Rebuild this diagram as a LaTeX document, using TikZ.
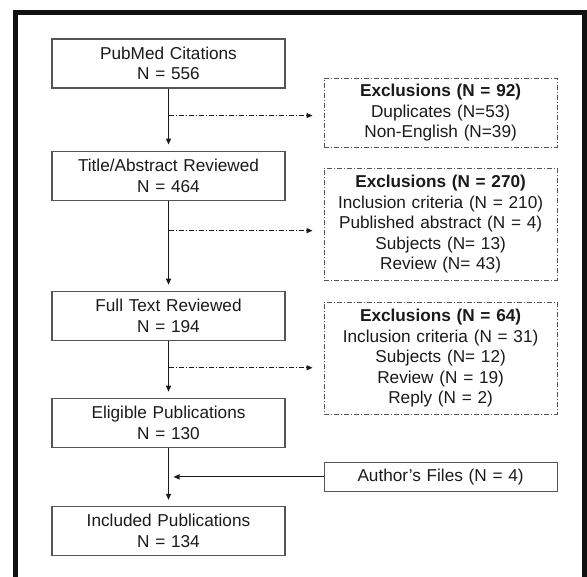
\documentclass[tikz,border=0pt]{standalone}
\usepackage{fontspec}
\setmainfont{Liberation Sans}
\usepackage{xcolor}
\usepackage{tikz}
\usetikzlibrary{arrows.meta,positioning}
\definecolor{publine}{HTML}{555555}
\definecolor{pubink}{HTML}{1A1A1A}
\definecolor{pubframe}{HTML}{111111}
\tikzset{
  pubstep/.style={
    rectangle,
    draw=publine,
    fill=white,
    line width=1.1pt,
    align=center,
    text width=225pt,
    inner xsep=4pt,
    inner ysep=4pt,
    minimum height=49pt,
    font=\fontsize{17.2}{20.6}\selectfont,
    text=pubink
  },
  pubexcl/.style={pubstep, dash pattern=on 5pt off 2pt on 1pt off 2pt},
  pubside/.style={pubstep, minimum height=29pt},
  pubarrow/.style={-{Triangle[length=6pt,width=5pt]}, line width=1.1pt, draw=pubink, shorten >=6pt},
  pubexclarrow/.style={pubarrow, dash pattern=on 5pt off 2pt on 1pt off 2pt, shorten >=11pt}
}

\begin{document}
\begin{tikzpicture}[x=1pt, y=-1pt]
\useasboundingbox (0,0) rectangle (587,577);
\draw[line width=5pt, draw=pubframe] (15,12.5) rectangle (584,600);
\node[pubstep] (cite) at (168.5,63.5) {PubMed Citations\\N = 556};
\node[pubstep, below=62pt of cite] (title) {Title/Abstract Reviewed\\N = 464};
\node[pubstep, below=90pt of title] (full) {Full Text Reviewed\\N = 194};
\node[pubstep, below=57pt of full] (elig) {Eligible Publications\\N = 130};
\node[pubstep, below=58pt of elig] (incl) {Included Publications\\N = 134};
\node[pubexcl, minimum height=69pt, below right=-11pt and 38pt of cite] (excla) {\textbf{Exclusions (N = 92)}\\Duplicates (N=53)\\Non-English (N=39)};
\node[pubexcl, minimum height=112pt, below=20pt of excla] (exclb) {\textbf{Exclusions (N = 270)}\\Inclusion criteria (N = 210)\\Published abstract (N = 4)\\Subjects (N= 13)\\Review (N= 43)};
\node[pubexcl, minimum height=112pt, below=21pt of exclb] (exclc) {\textbf{Exclusions (N = 64)}\\Inclusion criteria (N = 31)\\Subjects (N= 12)\\Review (N = 19)\\Reply (N = 2)};
\node[pubside, below=47pt of exclc] (author) {Author’s Files (N = 4)};
\coordinate (cutA) at ([yshift=-27pt]cite.south);
\coordinate (cutB) at ([yshift=-30pt]title.south);
\coordinate (cutC) at ([yshift=-27pt]full.south);
\draw[pubarrow] (cite) -- (title);
\draw[pubarrow] (title) -- (full);
\draw[pubarrow] (full) -- (elig);
\draw[pubarrow] (elig) -- (incl);
\draw[pubexclarrow] (cutA) -- (cutA -| excla.west);
\draw[pubexclarrow] (cutB) -- (cutB -| exclb.west);
\draw[pubexclarrow] (cutC) -- (cutC -| exclc.west);
\draw[pubarrow, shorten >=5pt] (author) -- (author -| elig.south);
\end{tikzpicture}
\end{document}
